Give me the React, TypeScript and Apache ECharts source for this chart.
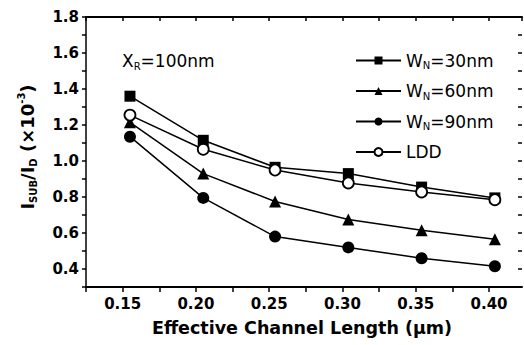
import React, { useEffect, useRef } from "react";
import * as echarts from "echarts";

const lengths = [0.155, 0.205, 0.254, 0.304, 0.354, 0.404];
const wn30 = [1.36, 1.115, 0.965, 0.93, 0.855, 0.795];
const wn60 = [1.215, 0.93, 0.775, 0.675, 0.615, 0.565];
const wn90 = [1.135, 0.795, 0.58, 0.52, 0.46, 0.415];
const ldd = [1.255, 1.065, 0.95, 0.878, 0.828, 0.785];
const seriesNames = ["W30", "W60", "W90", "LDD"];
const legendLabels: Record<string, string> = {
  W30: "{m|W}{s|N}{m|=30nm}",
  W60: "{m|W}{s|N}{m|=60nm}",
  W90: "{m|W}{s|N}{m|=90nm}",
  LDD: "{m|LDD}",
};

const FONT = "DejaVu Sans";

function pairs(ys: number[]) {
  return ys.map((y, i) => [lengths[i], y]);
}

export default function App() {
  const ref = useRef<HTMLDivElement>(null);
  useEffect(() => {
    if (!ref.current) return;
    const chart = echarts.init(ref.current, null, { renderer: "svg" });
    const lineSeries = (name: string, data: number[], symbol: string, size: number, fill: string) => ({
      name,
      type: "line",
      data: pairs(data),
      symbol,
      symbolSize: size,
      showAllSymbol: true,
      lineStyle: { color: "#000", width: 1.5 },
      itemStyle: { color: fill, borderColor: "#000", borderWidth: fill === "#fff" ? 1.8 : 0, opacity: 1 },
      z: 3,
    });
    chart.setOption({
      animation: false,
      backgroundColor: "#fff",
      grid: { left: 86, right: 2, top: 17, bottom: 58 },
      legend: {
        data: seriesNames,
        orient: "vertical",
        left: 350,
        top: 47,
        itemWidth: 45,
        itemHeight: 10,
        itemGap: 12,
        formatter: (n: string) => legendLabels[n],
        textStyle: {
          color: "#000",
          rich: {
            m: { fontFamily: FONT, fontSize: 17, color: "#000", verticalAlign: "middle", lineHeight: 20 },
            s: { fontFamily: FONT, fontSize: 10, color: "#000", verticalAlign: "bottom", lineHeight: 10 },
          },
        },
      },
      xAxis: [
        {
          type: "value",
          position: "bottom",
          min: 0.125,
          max: 0.4225,
          interval: 0.025,
          axisLine: { show: true, onZero: false, lineStyle: { color: "#000", width: 2 } },
          axisTick: { show: true, inside: false, length: 5, lineStyle: { color: "#000", width: 1.5 } },
          splitLine: { show: false },
          axisLabel: {
            color: "#000",
            fontFamily: FONT,
            fontWeight: "bold",
            fontSize: 15,
            margin: 9,
            showMaxLabel: false,
            formatter: (v: number) => {
              const k = Math.round(v * 1000);
              return k % 50 === 0 ? v.toFixed(2) : "";
            },
          },
        },
        {
          type: "value",
          position: "top",
          min: 0.125,
          max: 0.4225,
          interval: 0.025,
          axisLine: { show: true, onZero: false, lineStyle: { color: "#000", width: 2 } },
          axisTick: { show: true, inside: true, length: 4, lineStyle: { color: "#000", width: 1.5 } },
          splitLine: { show: false },
          axisLabel: { show: false },
        },
      ],
      yAxis: [
        {
          type: "value",
          position: "left",
          min: 0.3,
          max: 1.8,
          interval: 0.1,
          axisLine: { show: true, onZero: false, lineStyle: { color: "#000", width: 1.5 } },
          axisTick: { show: true, inside: false, length: 4, lineStyle: { color: "#000", width: 1.5 } },
          splitLine: { show: false },
          axisLabel: {
            color: "#000",
            fontFamily: FONT,
            fontWeight: "bold",
            fontSize: 15,
            margin: 7,
            formatter: (v: number) => (Math.round(v * 10) % 2 === 0 ? v.toFixed(1) : ""),
          },
        },
        {
          type: "value",
          position: "right",
          min: 0.3,
          max: 1.8,
          interval: 0.1,
          axisLine: { show: false, onZero: false },
          axisTick: { show: true, inside: true, length: 4, lineStyle: { color: "#000", width: 1.5 } },
          splitLine: { show: false },
          axisLabel: { show: false },
        },
      ],
      graphic: [
        {
          type: "text",
          x: 27,
          y: 147,
          rotation: Math.PI / 2,
          style: {
            text: "{m|I}{s|SUB}{m|/I}{s|D}{m| (×10}{p|-3}{m|)}",
            align: "center",
            verticalAlign: "middle",
            rich: {
              m: { fontFamily: FONT, fontWeight: "bold", fontSize: 18, fill: "#000", verticalAlign: "middle", lineHeight: 22 },
              s: { fontFamily: FONT, fontWeight: "bold", fontSize: 10, fill: "#000", verticalAlign: "bottom", lineHeight: 10 },
              p: { fontFamily: FONT, fontWeight: "bold", fontSize: 10, fill: "#000", verticalAlign: "top", lineHeight: 10 },
            },
          },
        },
        {
          type: "text",
          x: 302,
          y: 328,
          style: {
            text: "Effective Channel Length (μm)",
            align: "center",
            verticalAlign: "middle",
            fontFamily: FONT,
            fontWeight: "bold",
            fontSize: 17.5,
            fill: "#000",
          },
        },
        {
          type: "text",
          x: 122,
          y: 61,
          style: {
            text: "{m|X}{s|R}{m|=100nm}",
            align: "left",
            verticalAlign: "middle",
            rich: {
              m: { fontFamily: FONT, fontSize: 17, fill: "#000", verticalAlign: "middle", lineHeight: 20 },
              s: { fontFamily: FONT, fontSize: 10, fill: "#000", verticalAlign: "bottom", lineHeight: 10 },
            },
          },
        },
      ],
      series: [
        lineSeries("W30", wn30, "rect", 11, "#000"),
        lineSeries("W60", wn60, "triangle", 12, "#000"),
        lineSeries("W90", wn90, "circle", 12, "#000"),
        lineSeries("LDD", ldd, "circle", 11, "#fff"),
      ],
    });
    return () => chart.dispose();
  }, []);
  return (
    <div
      ref={ref}
      style={{ position: "absolute", left: 0, top: 0, width: 524, height: 345, background: "#fff" }}
    />
  );
}
